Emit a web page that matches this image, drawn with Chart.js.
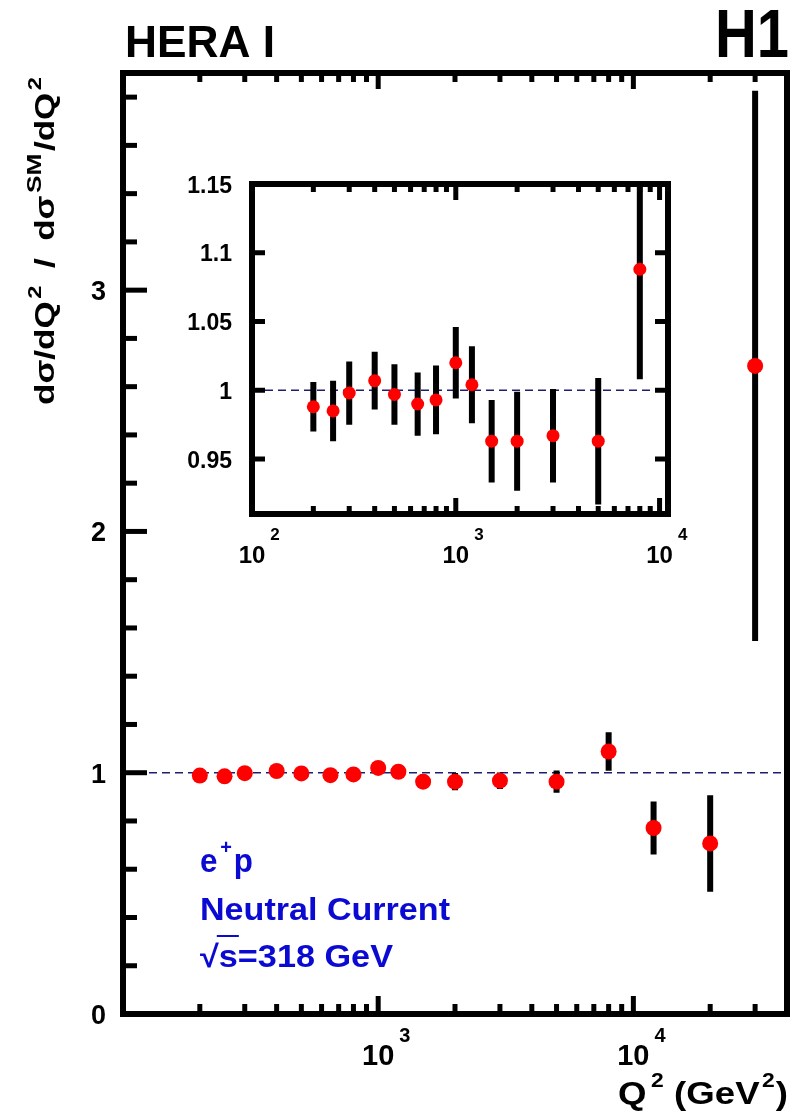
<!DOCTYPE html>
<html>
<head>
<meta charset="utf-8">
<script src="https://cdn.jsdelivr.net/npm/chart.js@4.4.1/dist/chart.umd.min.js"></script>
<style>
body{margin:0;background:#fff}
#wrap{position:relative;width:795px;height:1113px}
#wrap canvas{position:absolute;left:0;top:0}
</style>
</head>
<body>
<div id="wrap">
<canvas id="mainChart" width="795" height="1113"></canvas>
<canvas id="insetChart" width="795" height="1113"></canvas>
</div>
<script>
// Q2 bins (GeV^2), measured / SM ratio and total error
const q2 = [200, 250, 300, 400, 500, 650, 800, 1000, 1200, 1500, 2000, 3000, 5000, 8000, 12000, 20000, 30000]
const ratio = [0.988, 0.985, 0.998, 1.007, 0.997, 0.990, 0.993, 1.020, 1.004, 0.963, 0.963, 0.967, 0.963, 1.088, 0.771, 0.707, 2.686]
const ratioErr = [0.018, 0.022, 0.023, 0.021, 0.022, 0.023, 0.025, 0.026, 0.028, 0.030, 0.036, 0.034, 0.046, 0.080, 0.110, 0.200, 1.140]
const insetCount = 14 // points shown in the zoomed inset (up to 8000)

// tick marks
const mainYMajor = [0, 1, 2, 3]
const mainYMinor = [0.2, 0.4, 0.6, 0.8, 1.2, 1.4, 1.6, 1.8, 2.2, 2.4, 2.6, 2.8, 3.2, 3.4, 3.6, 3.8]
const mainXMajor = [1000, 10000]
const mainXMinor = [200, 300, 400, 500, 600, 700, 800, 900, 2000, 3000, 4000, 5000, 6000, 7000, 8000, 9000, 20000, 30000]
const mainXLabels = [[1000, '3'], [10000, '4']]
const insetYMajor = [0.95, 1, 1.05, 1.1, 1.15]
const insetYLabels = ['0.95', '1', '1.05', '1.1', '1.15']
const insetXMajor = [1000, 10000]
const insetXMinor = [200, 300, 400, 500, 600, 700, 800, 900, 2000, 3000, 4000, 5000, 6000, 7000, 8000, 9000]
const insetXLabels = [[100, '2'], [1000, '3'], [10000, '4']]

const FONT = '"Liberation Sans", Arial, Helvetica, sans-serif'
const RED = '#ff0000'
const NAVY = '#1e1e70'
const BLUE = '#0a0ad2'

function points(n) {
  const out = []
  for (let i = 0; i < n; i++) out.push({x: q2[i], y: ratio[i]})
  return out
}
// vertical error bar segments, broken by null points
function errBars(n) {
  const out = []
  for (let i = 0; i < n; i++) {
    out.push({x: q2[i], y: ratio[i] - ratioErr[i]}, {x: q2[i], y: ratio[i] + ratioErr[i]}, {x: q2[i], y: null})
  }
  return out
}

// draw text made of runs (superscripts etc), stretched to a target width
function drawRuns(ctx, runs, x, y, o) {
  o = o || {}
  ctx.save()
  ctx.fillStyle = o.color || '#000'
  ctx.textAlign = 'left'
  ctx.textBaseline = 'alphabetic'
  let W = 0
  const ws = runs.map(r => {
    ctx.font = 'bold ' + r.size + 'px ' + FONT
    const w = (r.pre || 0) + ctx.measureText(r.t).width
    W += w
    return w
  })
  const s = o.width ? o.width / W : 1
  ctx.translate(x, y)
  if (o.rotate) ctx.rotate(o.rotate)
  let start = o.align === 'right' ? -W * s : (o.align === 'center' ? -W * s / 2 : 0)
  ctx.translate(start, 0)
  ctx.scale(s, o.sy || 1)
  let cx = 0
  const pos = []
  runs.forEach((r, i) => {
    ctx.font = 'bold ' + r.size + 'px ' + FONT
    ctx.fillText(r.t, cx + (r.pre || 0), -(r.dy || 0))
    pos.push([x + start + (cx + (r.pre || 0)) * s, x + start + (cx + ws[i]) * s])
    cx += ws[i]
  })
  ctx.restore()
  return pos
}

function drawPow(ctx, px, base, exp, size, expSize, raise, gap) {
  ctx.save()
  ctx.fillStyle = '#000'
  ctx.font = 'bold ' + size + 'px ' + FONT
  const w = ctx.measureText('10').width
  ctx.textAlign = 'left'
  ctx.fillText('10', px - w / 2, base)
  ctx.font = 'bold ' + expSize + 'px ' + FONT
  ctx.fillText(exp, px + w / 2 + gap, base - raise)
  ctx.restore()
}

function drawFrame(chart, f) {
  const {ctx, chartArea: a} = chart
  const xs = chart.scales.x, ys = chart.scales.y
  ctx.save()
  ctx.strokeStyle = '#000'
  ctx.lineCap = 'butt'
  ctx.lineWidth = f.tickW
  const seg = (x1, y1, x2, y2) => { ctx.beginPath(); ctx.moveTo(x1, y1); ctx.lineTo(x2, y2); ctx.stroke() }
  const xt = (vals, bLen, tLen) => vals.forEach(v => {
    const px = xs.getPixelForValue(v)
    seg(px, a.bottom, px, a.bottom - bLen)
    seg(px, a.top, px, a.top + tLen)
  })
  xt(f.xMajor, f.xMajorLen[0], f.xMajorLen[1])
  xt(f.xMinor, f.xMinorLen[0], f.xMinorLen[1])
  const yt = (vals, len) => vals.forEach(v => {
    const py = ys.getPixelForValue(v)
    seg(a.left, py, a.left + len, py)
    if (f.rightTicks) seg(a.right, py, a.right - len, py)
  })
  yt(f.yMajor, f.yMajorLen)
  if (f.yMinor) yt(f.yMinor, f.yMinorLen)
  ctx.lineWidth = f.frameW
  ctx.lineJoin = 'miter'
  ctx.strokeRect(a.left, a.top, a.right - a.left, a.bottom - a.top)
  ctx.restore()
}

const mainDeco = {
  id: 'mainDeco',
  afterDraw(chart) {
    const ctx = chart.ctx
    drawFrame(chart, {
      frameW: 6, tickW: 5,
      xMajor: mainXMajor, xMajorLen: [18, 16], xMinor: mainXMinor, xMinorLen: [10, 9],
      yMajor: mainYMajor, yMajorLen: 24, yMinor: mainYMinor, yMinorLen: 14, rightTicks: false
    })
    // y tick labels
    ctx.save()
    ctx.fillStyle = '#000'
    ctx.font = 'bold 27px ' + FONT
    ctx.textAlign = 'right'
    mainYMajor.forEach(v => ctx.fillText(String(v), 106, chart.scales.y.getPixelForValue(v) + 10))
    ctx.restore()
    mainXLabels.forEach(l => drawPow(ctx, chart.scales.x.getPixelForValue(l[0]), 1065, l[1], 29, 20, 23, 5))

    drawRuns(ctx, [{t: 'HERA I', size: 44}], 125, 57, {width: 150})
    drawRuns(ctx, [{t: 'H1', size: 68}], 789, 57, {width: 74, align: 'right'})
    // axis titles
    drawRuns(ctx, [
      {t: 'dσ/dQ', size: 28}, {t: '2', size: 19, dy: 13, pre: 2},
      {t: '/', size: 28, pre: 14}, {t: 'dσ', size: 28, pre: 14},
      {t: 'SM', size: 21, dy: 13, pre: 2}, {t: '/dQ', size: 28, pre: 2}, {t: '2', size: 19, dy: 13, pre: 2}
    ], 54, 405, {width: 328, rotate: -Math.PI / 2})
    drawRuns(ctx, [
      {t: 'Q', size: 32}, {t: '2', size: 20, dy: 17, pre: 4},
      {t: '(GeV', size: 32, pre: 9}, {t: '2', size: 20, dy: 17, pre: 2}, {t: ')', size: 32, pre: 1}
    ], 618, 1104, {width: 170})
    // process label
    drawRuns(ctx, [{t: 'e', size: 33}, {t: '+', size: 21, dy: 18, pre: 3}, {t: 'p', size: 33, pre: 2}], 200, 872, {width: 53, color: BLUE})
    drawRuns(ctx, [{t: 'Neutral Current', size: 32}], 200, 920, {width: 250, color: BLUE})
    const p = drawRuns(ctx, [{t: '√', size: 31}, {t: 's', size: 31}, {t: '=318 GeV', size: 31}], 200, 967, {width: 193, color: BLUE})
    ctx.save()
    ctx.strokeStyle = BLUE
    ctx.lineWidth = 2
    ctx.beginPath()
    ctx.moveTo(p[0][1] - 2, 936)
    ctx.lineTo(p[1][1] + 1, 936)
    ctx.stroke()
    ctx.restore()
  }
}

const insetDeco = {
  id: 'insetDeco',
  afterDraw(chart) {
    const ctx = chart.ctx
    drawFrame(chart, {
      frameW: 6, tickW: 5,
      xMajor: insetXMajor, xMajorLen: [16, 16], xMinor: insetXMinor, xMinorLen: [8, 8],
      yMajor: insetYMajor, yMajorLen: 13, rightTicks: true
    })
    ctx.save()
    ctx.fillStyle = '#000'
    ctx.font = 'bold 23px ' + FONT
    ctx.textAlign = 'right'
    insetYMajor.forEach((v, i) => ctx.fillText(insetYLabels[i], 232, chart.scales.y.getPixelForValue(v) + 8.5))
    ctx.restore()
    insetXLabels.forEach(l => drawPow(ctx, chart.scales.x.getPixelForValue(l[0]), 563, l[1], 24, 17, 23, 5))
  }
}

function makeDatasets(n, radius, xmin, xmax, clip) {
  return [{
    label: 'ratio',
    data: points(n),
    showLine: false,
    pointRadius: radius,
    pointBackgroundColor: RED,
    pointBorderWidth: 0,
    clip: clip,
    order: 0
  }, {
    label: 'errors',
    data: errBars(n),
    showLine: true,
    borderColor: '#000',
    borderWidth: 6,
    borderCapStyle: 'butt',
    pointRadius: 0,
    spanGaps: false,
    clip: clip,
    order: 1
  }, {
    label: 'SM',
    data: [{x: xmin, y: 1}, {x: xmax, y: 1}],
    showLine: true,
    borderColor: NAVY,
    borderWidth: 1.5,
    borderDash: [8, 5],
    pointRadius: 0,
    clip: clip,
    order: 2
  }]
}

function baseOptions(pad, xr, yr) {
  return {
    responsive: false,
    animation: false,
    events: [],
    layout: {padding: pad},
    plugins: {legend: {display: false}, tooltip: {enabled: false}, title: {display: false}},
    scales: {
      x: {type: 'logarithmic', min: xr[0], max: xr[1], display: false},
      y: {type: 'linear', min: yr[0], max: yr[1], display: false}
    }
  }
}

const mainCtx = document.getElementById('mainChart').getContext('2d')
const mainChart = new Chart(mainCtx, {
  type: 'scatter',
  data: {datasets: makeDatasets(q2.length, 8, 100, 40000, 3)},
  options: baseOptions({left: 123, top: 73, right: 6, bottom: 99}, [100, 40000], [0, 3.9]),
  plugins: [mainDeco]
})

const insetCtx = document.getElementById('insetChart').getContext('2d')
const insetChart = new Chart(insetCtx, {
  type: 'scatter',
  data: {datasets: makeDatasets(insetCount, 6.5, 100, 11000, 0)},
  options: baseOptions({left: 252, top: 184, right: 127, bottom: 599}, [100, 11000], [0.91, 1.15]),
  plugins: [insetDeco]
})
</script>
</body>
</html>
